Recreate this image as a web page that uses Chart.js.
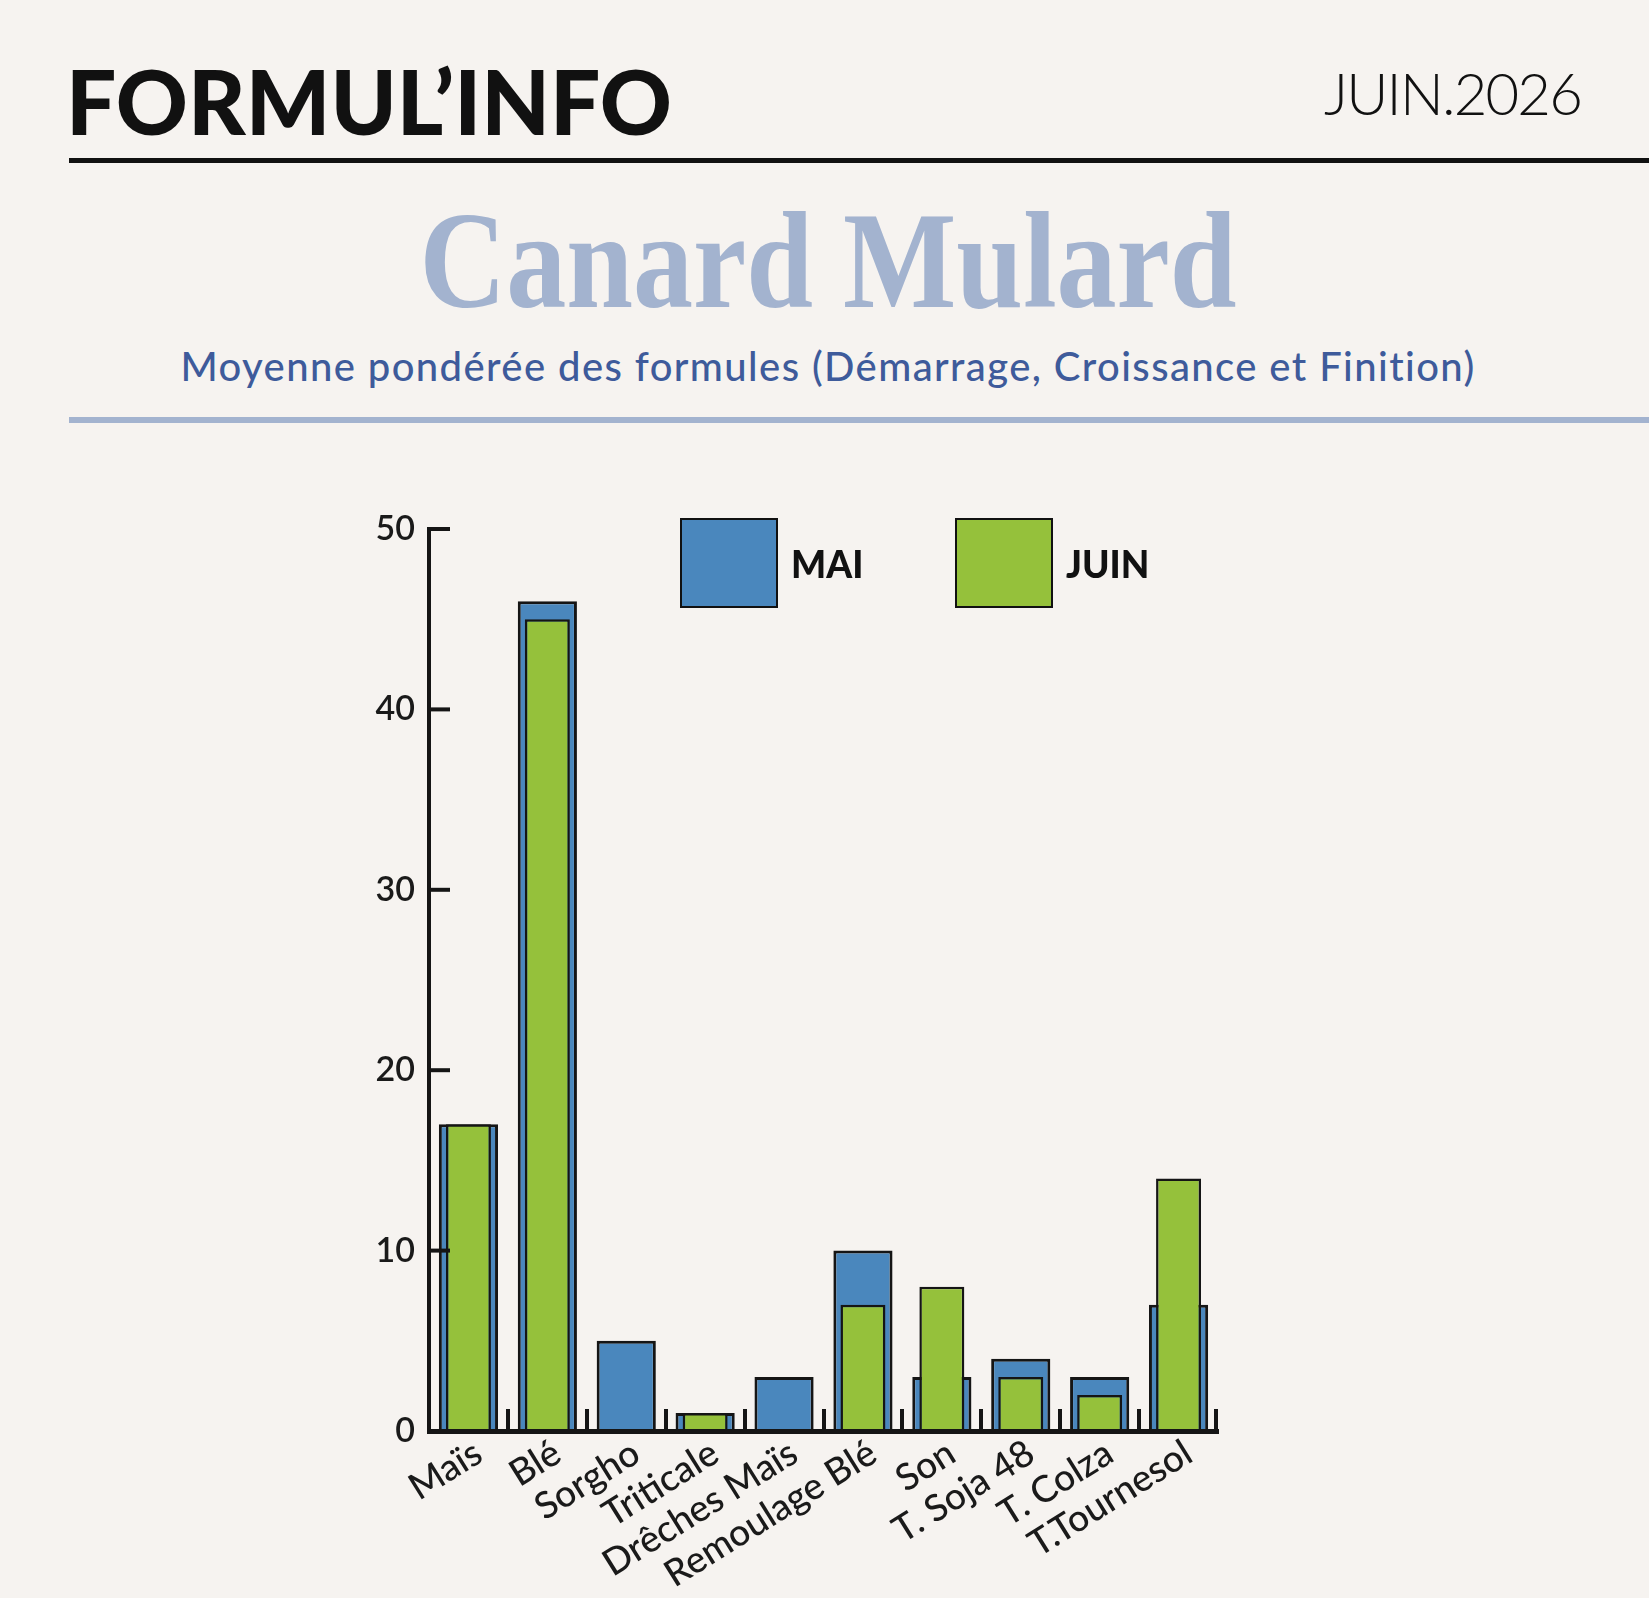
<!DOCTYPE html>
<html lang="fr">
<head>
<meta charset="utf-8">
<title>Formul'Info - Canard Mulard</title>
<script src="https://cdn.jsdelivr.net/npm/chart.js@4.4.0/dist/chart.umd.min.js"></script>
<style>
  html, body { margin: 0; padding: 0; }
  body {
    width: 1649px;
    height: 1598px;
    background: #f6f3f0;
    position: relative;
    overflow: hidden;
    font-family: Lato, "Noto Sans", sans-serif;
  }
  .brand {
    position: absolute; left: 66px; top: 56px;
    font-size: 89px; line-height: 1; font-weight: 900; color: #111;
  }
  .date {
    position: absolute; right: 68px; top: 64px;
    font-size: 58px; line-height: 1; font-weight: 300; color: #111;
    letter-spacing: -1.8px;
  }
  .rule-black {
    position: absolute; left: 69px; right: 0; top: 158px; height: 5px; background: #111;
  }
  .title {
    position: absolute; left: 0; width: 1656px; top: 192px; text-align: center;
    font-family: "Liberation Serif", serif; font-weight: bold;
    font-size: 138px; line-height: 1; color: #a3b3cf;
    transform: scaleX(0.87);
  }
  .subtitle {
    position: absolute; left: 0; width: 1656px; top: 346px; text-align: center;
    font-size: 40px; line-height: 1; font-weight: 500; color: #3e5b9b;
    letter-spacing: 1.4px;
  }
  .rule-blue {
    position: absolute; left: 69px; right: 0; top: 417px; height: 6px; background: #a3b3cf;
  }
  #chartBox {
    position: absolute; left: 0; top: 440px; width: 1649px; height: 1158px;
  }
  .legend-item { position: absolute; top: 518px; }
  .legend-item .swatch {
    position: absolute; left: 0; top: 0; width: 94px; height: 86px;
    border: 2px solid #111;
  }
  .legend-item .lbl {
    position: absolute; left: 111px; top: 27px;
    font-size: 37px; line-height: 1; font-weight: 900; color: #111; white-space: nowrap;
  }
</style>
</head>
<body>
  <div class="brand">FORMUL’INFO</div>
  <div class="date">JUIN.2026</div>
  <div class="rule-black"></div>
  <div class="title">Canard Mulard</div>
  <div class="subtitle">Moyenne pondérée des formules (Démarrage, Croissance et Finition)</div>
  <div class="rule-blue"></div>

  <div id="chartBox"><canvas id="feedChart"></canvas></div>
  <div id="legend"></div>

<script>
// Matières premières (catégories)
const categories = ["Maïs", "Blé", "Sorgho", "Triticale", "Drêches Maïs",
  "Remoulage Blé", "Son", "T. Soja 48", "T. Colza", "T.Tournesol"];

// Séries
const seriesNames = ["MAI", "JUIN"];
const maiValues = [17, 46, 5, 1, 3, 10, 3, 4, 3, 7];
const juinValues = [17, 45, 0, 1, 0, 7, 8, 3, 2, 14];

// Axe Y
const yTicks = [0, 10, 20, 30, 40, 50];

const BLUE = "#4a87bd";
const GREEN = "#95c13b";
const INK = "#151515";

// Legend built as HTML from the series names
const legendColors = [BLUE, GREEN];
const legendLefts = [680, 955];
const legendEl = document.getElementById("legend");
seriesNames.forEach((name, i) => {
  const item = document.createElement("div");
  item.className = "legend-item";
  item.style.left = legendLefts[i] + "px";
  item.innerHTML = '<div class="swatch" style="background:' + legendColors[i] + '"></div>' +
    '<div class="lbl">' + name + '</div>';
  legendEl.appendChild(item);
});

// Small inward tick marks on both axes
const tickMarks = {
  id: "tickMarks",
  afterDatasetsDraw(chart) {
    const { ctx, scales: { x, y } } = chart;
    ctx.save();
    ctx.strokeStyle = INK;
    ctx.lineWidth = 4;
    // y ticks pointing right
    yTicks.forEach(v => {
      const py = y.getPixelForValue(v);
      ctx.beginPath();
      ctx.moveTo(x.left, py);
      ctx.lineTo(x.left + 21, py);
      ctx.stroke();
    });
    // category boundaries on the x axis
    const step = (x.right - x.left) / categories.length;
    for (let i = 1; i <= categories.length; i++) {
      const px = Math.round(x.left + step * i) - (i === categories.length ? 2 : 0);
      ctx.beginPath();
      ctx.moveTo(px, y.bottom);
      ctx.lineTo(px, y.bottom - 22);
      ctx.stroke();
    }
    ctx.restore();
  }
};

const ctx = document.getElementById("feedChart");

new Chart(ctx, {
  type: "bar",
  data: {
    labels: categories,
    datasets: [
      {
        label: seriesNames[0],
        data: maiValues,
        backgroundColor: BLUE,
        borderColor: INK,
        borderWidth: 3,
        barPercentage: 0.75,
        categoryPercentage: 1,
        order: 1
      },
      {
        label: seriesNames[1],
        data: juinValues,
        backgroundColor: GREEN,
        borderColor: INK,
        borderWidth: 2.5,
        barPercentage: 0.57,
        categoryPercentage: 1,
        order: 0
      }
    ]
  },
  options: {
    responsive: true,
    maintainAspectRatio: false,
    animation: false,
    grouped: false,
    layout: {
      padding: { left: 329, right: 431, top: 89, bottom: 0 }
    },
    scales: {
      x: {
        grid: { display: false, drawTicks: false },
        border: { display: true, color: INK, width: 5, z: 1 },
        ticks: {
          color: "#1a1a1a",
          font: { family: "Lato", size: 37, weight: "500" },
          minRotation: 32,
          maxRotation: 32,
          autoSkip: false,
          padding: 0,
          labelOffset: 10
        },
        afterFit(scale) { scale.height = 167; }
      },
      y: {
        min: 0,
        max: 50,
        grid: { display: false, drawTicks: false },
        border: { display: true, color: INK, width: 4, z: 1 },
        ticks: {
          stepSize: 10,
          color: "#1a1a1a",
          font: { family: "Lato", size: 34, weight: "600" },
          padding: 14
        },
        afterFit(scale) { scale.width = 100; }
      }
    },
    plugins: {
      legend: { display: false },
      tooltip: { enabled: false }
    }
  },
  plugins: [tickMarks]
});
</script>
</body>
</html>
